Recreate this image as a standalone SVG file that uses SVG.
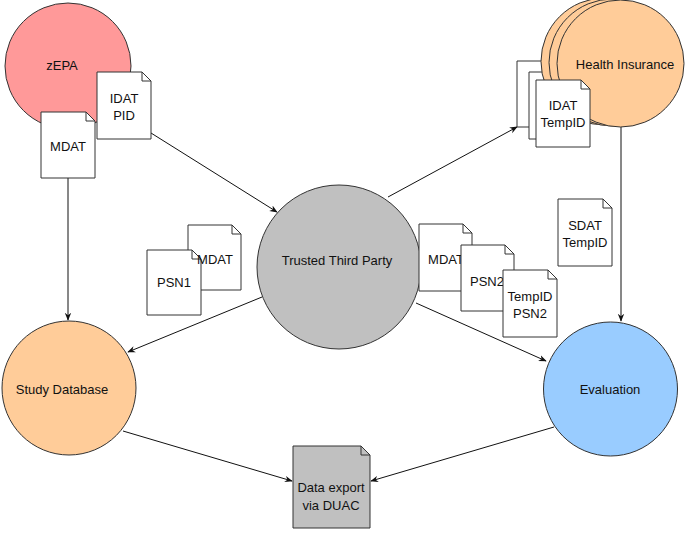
<svg xmlns="http://www.w3.org/2000/svg" width="685" height="543" viewBox="0 0 685 543">
<style>
.c{stroke:#333;stroke-width:1}
.d{fill:#fff;stroke:#333;stroke-width:1}
.f{fill:none;stroke:#333;stroke-width:1}
.t{font-family:"Liberation Sans",Arial,sans-serif;font-size:13px;fill:#111;text-anchor:middle}
.e{fill:none;stroke:#111;stroke-width:1;marker-end:url(#a)}
</style>
<defs>
<marker id="a" viewBox="0 0 10 10" refX="9" refY="5" markerWidth="8" markerHeight="8" markerUnits="userSpaceOnUse" orient="auto">
<path d="M0,1 L10,5 L0,9 L3,5 Z" fill="#111"/>
</marker>
</defs>
<g id="connectors">
<path class="e" d="M68,178 V320"/>
<path class="e" d="M151,133 L277,212"/>
<path class="e" d="M388,197 L517,127"/>
<path class="e" d="M621,127 V321"/>
<path class="e" d="M262,297 L128,352"/>
<path class="e" d="M416,303 L546,361"/>
<path class="e" d="M123,431 L292,481"/>
<path class="e" d="M554,427 L371,481"/>
</g>
<g id="zepa">
<circle class="c" cx="68" cy="66" r="63" fill="#FF9999"/>
<text class="t" x="62" y="70">zEPA</text>
</g>
<g id="doc-idat-pid">
<path class="d" d="M97,72 H142 L151,81 V139 H97 Z"/>
<path class="f" d="M142,72 V81 H151"/>
<text class="t" x="124" y="103">IDAT</text>
<text class="t" x="124" y="120">PID</text>
</g>
<g id="doc-mdat-zepa">
<path class="d" d="M41,112 H86 L95,121 V178 H41 Z"/>
<path class="f" d="M86,112 V121 H95"/>
<text class="t" x="68" y="151">MDAT</text>
</g>
<g id="hi-doc-back">
<path class="d" d="M517,61 H570 V127 H517 Z"/>
</g>
<g id="hi-doc-mid">
<path class="d" d="M529,72 H582 V139 H529 Z"/>
</g>
<g id="health-insurance">
<circle class="c" cx="604.5" cy="61.5" r="63.5" fill="#FFCC99"/>
<circle class="c" cx="612.5" cy="62.5" r="63.5" fill="#FFCC99"/>
<circle class="c" cx="620.5" cy="63.5" r="63.5" fill="#FFCC99"/>
<text class="t" x="625" y="69">Health Insurance</text>
</g>
<g id="doc-idat-tempid">
<path class="d" d="M536,80 H581 L590,89 V147 H536 Z"/>
<path class="f" d="M581,80 V89 H590"/>
<text class="t" x="563" y="110">IDAT</text>
<text class="t" x="563" y="127">TempID</text>
</g>
<g id="ttp">
<circle class="c" cx="339" cy="267" r="82" fill="#C0C0C0"/>
<text class="t" x="337" y="265">Trusted Third Party</text>
</g>
<g id="doc-sdat-tempid">
<path class="d" d="M558,199 H603 L612,208 V266 H558 Z"/>
<path class="f" d="M603,199 V208 H612"/>
<text class="t" x="585" y="230">SDAT</text>
<text class="t" x="585" y="247">TempID</text>
</g>
<g id="doc-mdat-left">
<path class="d" d="M188,225 H232 L241,234 V290 H188 Z"/>
<path class="f" d="M232,225 V234 H241"/>
</g>
<g id="doc-psn1">
<path class="d" d="M147,250 H192 L201,259 V315 H147 Z"/>
<path class="f" d="M192,250 V259 H201"/>
<text class="t" x="174" y="287">PSN1</text>
</g>
<text class="t" x="215" y="264">MDAT</text>
<g id="doc-mdat-right">
<path class="d" d="M419,224 H463 L472,233 V291 H419 Z"/>
<path class="f" d="M463,224 V233 H472"/>
<text class="t" x="446" y="264">MDAT</text>
</g>
<g id="doc-psn2">
<path class="d" d="M461,245 H505 L514,254 V311 H461 Z"/>
<path class="f" d="M505,245 V254 H514"/>
<text class="t" x="487" y="286">PSN2</text>
</g>
<g id="doc-tempid-psn2">
<path class="d" d="M503,270 H548 L557,279 V337 H503 Z"/>
<path class="f" d="M548,270 V279 H557"/>
<text class="t" x="530" y="301">TempID</text>
<text class="t" x="530" y="318">PSN2</text>
</g>
<g id="study-database">
<circle class="c" cx="69" cy="388" r="67" fill="#FFCC99"/>
<text class="t" x="62" y="394">Study Database</text>
</g>
<g id="evaluation">
<circle class="c" cx="610.5" cy="389" r="67" fill="#99CCFF"/>
<text class="t" x="610" y="394">Evaluation</text>
</g>
<g id="data-export">
<path class="c" fill="#C0C0C0" d="M293,446 H361 L370,455 V528 H293 Z"/>
<path class="f" d="M361,446 V455 H370"/>
<text class="t" x="331" y="492">Data export</text>
<text class="t" x="331" y="510">via DUAC</text>
</g>
</svg>
